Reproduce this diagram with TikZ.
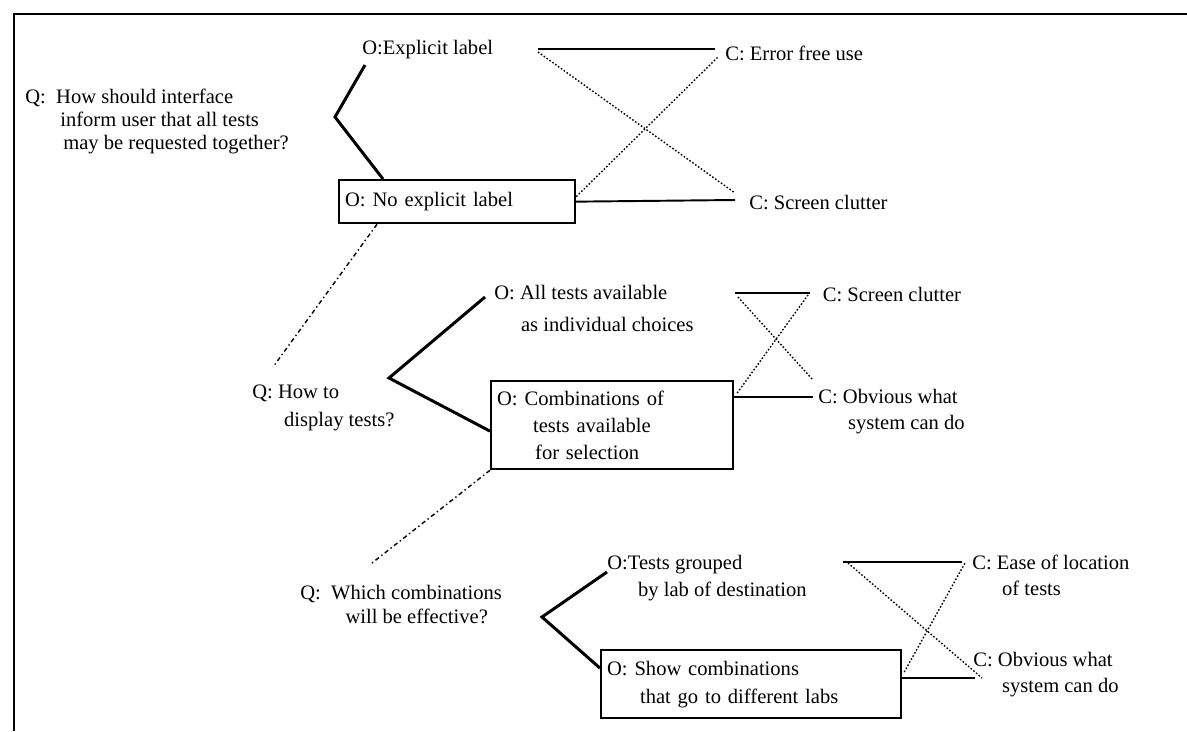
\documentclass[tikz,border=0pt]{standalone}
\usepackage{fontspec}
\setmainfont{Liberation Serif}
\usepackage{tikz}
\usetikzlibrary{positioning, calc}

\begin{document}
\begin{tikzpicture}[
    x=0.02cm, y=-0.02cm,
    every node/.style={font=\fontsize{11.7}{14.5}\selectfont, inner sep=0pt, align=left},
    txt/.style={anchor=north west},
    optbox/.style={draw, line width=1.3pt, anchor=north west, inner xsep=0.12cm, inner ysep=0pt},
    tie/.style={line width=1.1pt},
    bracket/.style={line width=1.7pt, line join=miter},
    tradeoff/.style={line width=0.8pt, dash pattern=on 0.9pt off 1.1pt},
    followup/.style={line width=0.8pt, dash pattern=on 2.5pt off 1.7pt on 0.8pt off 1.7pt}
]
\useasboundingbox (0,0) rectangle (1187,731);
\draw[line width=1.4pt] (14,731) -- (14,14) -- (1187,14);

\node[txt] (q1) at (25,89) {Q:~~How should interface\\[-1.5pt]\hspace*{1.7em}inform user that all tests\\[-1.5pt]\hspace*{1.85em}may be requested together?};
\node[anchor=west] (o1) at (362,50) {O:Explicit label};
\node[optbox, minimum width=4.72cm, minimum height=0.86cm, text width=4.48cm] (box1) at (338,179) {O: No explicit label};
\coordinate (v1) at (335,117);
\coordinate (b1top) at (365,65);
\coordinate (t1a) at (538,49);
\coordinate (t1b) at (715,49);
\coordinate (s1b) at (735,200);
\node[right=0.2cm of t1b, yshift=-0.08cm] (c1) {C: Error free use};
\node[right=0.28cm of s1b, yshift=-0.06cm] (c2) {C: Screen clutter};
\draw[bracket] (b1top) -- (v1) -- ([xshift=0.9cm]box1.north west);
\draw[tie] (t1a) -- (t1b);
\draw[tie] (box1.east) -- (s1b);
\draw[tradeoff] ([yshift=-0.06cm]t1a) -- ([yshift=0.14cm]s1b);
\draw[tradeoff] ([yshift=0.1cm]box1.east) -- ([xshift=0.06cm,yshift=-0.16cm]t1b);
\coordinate (d1) at (273,367);
\draw[followup] ([xshift=0.78cm]box1.south west) -- (d1);

\node[txt] (q2) at (252,385) {Q: How to\\[1pt]\hspace*{1.55em}display tests?};
\node[txt] (o2) at (494,285) {O: All tests available\\[3.5pt]\hspace*{1.3em}as individual choices};
\node[optbox, minimum width=4.84cm, minimum height=1.76cm, text width=4.6cm] (box2) at (490,380) {O: Combinations of\\[1pt]\hspace*{1.75em}tests available\\[1pt]\hspace*{1.85em}for selection};
\coordinate (v2) at (389,378);
\coordinate (b2top) at (485,297);
\coordinate (t2a) at (735,293);
\coordinate (t2b) at (810,293);
\coordinate (s2b) at (813,397);
\node[right=0.25cm of t2b, yshift=-0.04cm] (c3) {C: Screen clutter};
\node[txt] (c4) at (818,389) {C: Obvious what\\\hspace*{1.45em}system can do};
\draw[bracket] (b2top) -- (v2) -- ([yshift=-0.12cm]box2.west);
\draw[tie] (t2a) -- (t2b);
\draw[tie] (box2.east |- s2b) -- (s2b);
\draw[tradeoff] ([xshift=0.06cm,yshift=-0.08cm]t2a) -- ([yshift=0.34cm]s2b);
\draw[tradeoff] ([xshift=0.06cm,yshift=0.08cm]box2.east |- s2b) -- ([xshift=-0.04cm,yshift=-0.04cm]t2b);
\coordinate (d2) at (372,563);
\draw[followup] (box2.south west) -- (d2);

\node[txt] (q3) at (300,585) {Q:~~Which combinations\\[-1pt]\hspace*{2.2em}will be effective?};
\node[txt] (o3) at (607,555) {O:Tests grouped\\[1pt]\hspace*{1.5em}by lab of destination};
\node[optbox, minimum width=6cm, minimum height=1.36cm, text width=5.76cm] (box3) at (600,649) {O: Show combinations\\[1.5pt]\hspace*{1.6em}that go to different labs};
\coordinate (v3) at (542,617);
\coordinate (b3top) at (607,572);
\coordinate (t3a) at (843,562);
\coordinate (t3b) at (962,562);
\coordinate (s3b) at (975,678);
\node[txt] (c5) at (972,555) {C: Ease of location\\\hspace*{1.45em}of tests};
\node[txt] (c6) at (973,652) {C: Obvious what\\\hspace*{1.4em}system can do};
\draw[bracket] (b3top) -- (v3) -- ([yshift=0.32cm]box3.west);
\draw[tie] (t3a) -- (t3b);
\draw[tie] (box3.east |- s3b) -- (s3b);
\draw[tradeoff] ([xshift=0.1cm,yshift=-0.02cm]t3a) -- ([xshift=0.14cm]s3b);
\draw[tradeoff] ([xshift=0.04cm,yshift=0.12cm]box3.east |- s3b) -- ([xshift=0.06cm,yshift=-0.02cm]t3b);
\end{tikzpicture}
\end{document}
